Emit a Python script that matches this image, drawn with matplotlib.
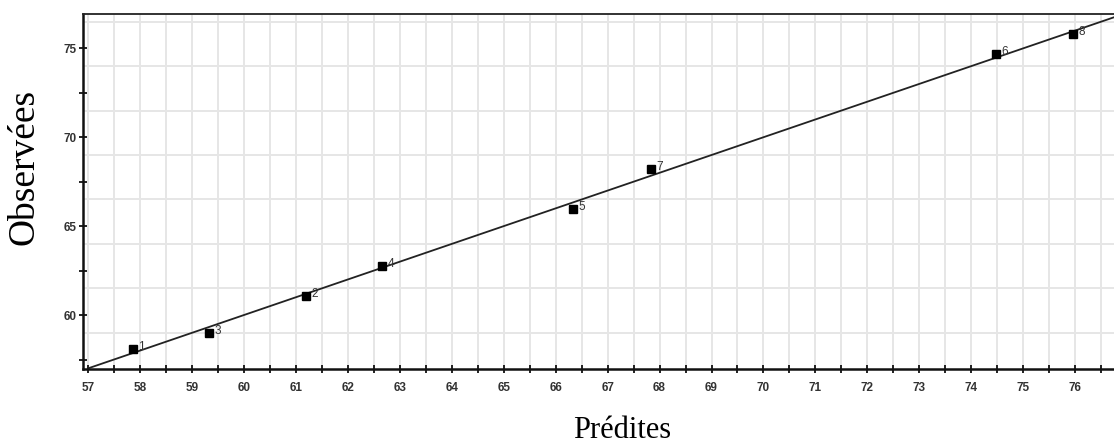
import numpy as np
import matplotlib.pyplot as plt
from matplotlib.ticker import MultipleLocator

# valeurs
predites = [57.86, 61.2, 59.33, 62.66, 66.33, 74.47, 67.83, 75.96]
observees = [58.07, 61.07, 59.0, 62.76, 65.96, 74.68, 68.19, 75.79]
labels = ['1', '2', '3', '4', '5', '6', '7', '8']
ligne_x = [57, 77]
ligne_y = [57, 77]

fig = plt.figure(figsize=(11.14, 4.46), dpi=100)
ax = fig.add_axes([83.3 / 1114, 1 - 369.3 / 446, 1033.5 / 1114, 355.3 / 446])

ax.set_xlim(56.91, 76.8)
ax.set_ylim(56.95, 76.93)

# grille
ax.xaxis.set_major_locator(MultipleLocator(1))
ax.xaxis.set_minor_locator(MultipleLocator(0.5))
ax.yaxis.set_major_locator(MultipleLocator(5))
ax.yaxis.set_minor_locator(MultipleLocator(2.5))
for gx in np.arange(57, 77, 0.5):
    ax.axvline(gx, color='#e6e6e6', lw=1.4, zorder=0)
for gy in np.arange(59, 77, 2.5):
    ax.axhline(gy, color='#e6e6e6', lw=1.4, zorder=0)

ax.plot(ligne_x, ligne_y, color='#222222', lw=1.3, zorder=2)
ax.plot(predites, observees, 's', color='black', ms=5.5, zorder=3)
for x, y, t in zip(predites, observees, labels):
    ax.annotate(t, (x, y), xytext=(4, 1.5), textcoords='offset points',
                family='Liberation Sans', fontsize=8.5, color='#333333', va='center', ha='left')

for s in ['left', 'bottom']:
    ax.spines[s].set_linewidth(1.8)
    ax.spines[s].set_color('#111111')
ax.spines['top'].set_linewidth(1.3)
ax.spines['top'].set_color('#222222')
ax.spines['right'].set_visible(False)

ax.tick_params(which='both', direction='inout', length=6, width=1.3, color='#111111',
               labelsize=8.5, labelcolor='#333333')
ax.tick_params(axis='x', pad=6)
ax.tick_params(axis='y', pad=2)
for lab in ax.get_xticklabels() + ax.get_yticklabels():
    lab.set_family('Liberation Sans')
    lab.set_fontweight('bold')

fig.text(24 / 1114, 1 - 167 / 446, 'Observées', rotation=90, ha='center', va='center',
         family='Liberation Serif', fontsize=27)
fig.text(622 / 1114, 1 - 430 / 446, 'Prédites', ha='center', va='center',
         family='Liberation Serif', fontsize=22)

fig.savefig('out.png', dpi=100)
